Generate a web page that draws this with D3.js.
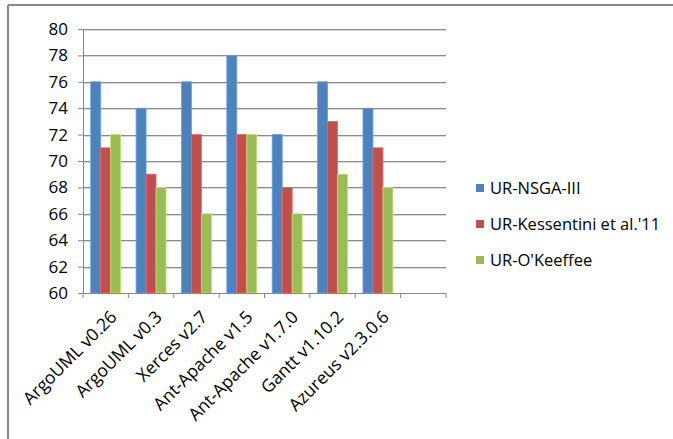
<!DOCTYPE html>
<html><head><meta charset="utf-8">
<script src="https://cdn.jsdelivr.net/npm/d3@7/dist/d3.min.js"></script>
<style>
body{margin:0;background:#fff;}
svg{display:block;font-family:"Open Sans",sans-serif;}
</style></head>
<body><svg id="c" width="673" height="439"></svg>
<script>
const categories = ["ArgoUML v0.26","ArgoUML v0.3","Xerces v2.7","Ant-Apache v1.5","Ant-Apache v1.7.0","Gantt v1.10.2","Azureus v2.3.0.6",""];
const seriesNames = ["UR-NSGA-III","UR-Kessentini et al.'11","UR-O'Keeffee"];
const nsga = [76,74,76,78,72,76,74];
const kessentini = [71,69,72,72,68,73,71];
const okeeffe = [72,68,66,72,66,69,68];
const yTicks = [60,62,64,66,68,70,72,74,76,78,80];
const colors = ["#4F81BD","#C0504D","#9BBB59"];
const seriesVals = [nsga,kessentini,okeeffe];

const svg = d3.select("#c");
const L=83, R=446, T=29, B=293;
const x = d3.scaleBand().domain(categories.map((c,i)=>i)).range([L,R]).paddingInner(0).paddingOuter(0);
const y = d3.scaleLinear().domain([60,80]).range([B,T]);
const bw = x.bandwidth();
const inner = d3.scaleBand().domain([0,1,2]).range([bw*0.17, bw*0.83]).padding(0);

// frame
svg.append("line").attr("x1",8).attr("x2",673).attr("y1",5).attr("y2",5).attr("stroke","#888").attr("stroke-width",2);
svg.append("line").attr("x1",8).attr("x2",8).attr("y1",5).attr("y2",439).attr("stroke","#888").attr("stroke-width",2);

// gridlines
svg.append("g").selectAll("line").data(yTicks.slice(1)).join("line")
  .attr("x1",L).attr("x2",R).attr("y1",d=>Math.round(y(d))+0.5).attr("y2",d=>Math.round(y(d))+0.5)
  .attr("stroke","#8c8c8c").attr("stroke-width",1);
svg.append("g").selectAll("line").data(yTicks.slice(1)).join("line")
  .attr("x1",L).attr("x2",R).attr("y1",d=>Math.round(y(d))+1.5).attr("y2",d=>Math.round(y(d))+1.5)
  .attr("stroke","#d8d8d8").attr("stroke-width",1);

// bars
const g = svg.append("g");
seriesVals.forEach((vals,si)=>{
  g.selectAll(null).data(vals).join("rect")
    .attr("x",(d,i)=>x(i)+inner(si))
    .attr("y",d=>y(d))
    .attr("width",inner.bandwidth())
    .attr("height",d=>B-y(d))
    .attr("fill",colors[si])
    .attr("stroke",d3.color(colors[si]).brighter(0.6))
    .attr("stroke-width",0.8);
});

// y axis
const ya = svg.append("g").attr("transform",`translate(${L},0)`)
  .call(d3.axisLeft(y).tickValues(yTicks).tickSize(5).tickPadding(10));
ya.select(".domain").attr("stroke","#888");
ya.selectAll(".tick line").attr("stroke","#888");
ya.selectAll("text").attr("font-size","17px").attr("fill","#000").attr("font-family","'Open Sans',sans-serif");

// x axis
const xa = svg.append("g").attr("transform",`translate(0,${B})`)
  .call(d3.axisBottom(x).tickSize(0).tickFormat(i=>categories[i]));
xa.select(".domain").attr("stroke","#888");
xa.selectAll(".tick text").attr("font-size","17.5px").attr("fill","#000")
  .attr("font-family","'Open Sans',sans-serif")
  .attr("text-anchor","end").attr("dy",0)
  .attr("transform",function(){return `translate(10,23) rotate(-45)`;});
// x tick marks at band boundaries
svg.append("g").selectAll("line").data(d3.range(categories.length+1)).join("line")
  .attr("x1",i=>L+i*bw).attr("x2",i=>L+i*bw).attr("y1",B).attr("y2",B+5).attr("stroke","#888");

// legend
const leg = svg.append("g");
const ly=[188,224,260];
seriesNames.forEach((n,i)=>{
  leg.append("rect").attr("x",476).attr("y",ly[i]-4).attr("width",8).attr("height",8).attr("fill",colors[i]);
  leg.append("text").attr("x",490).attr("y",ly[i]).attr("dy","0.35em").attr("font-size","16.5px").text(n);
});
</script></body></html>
